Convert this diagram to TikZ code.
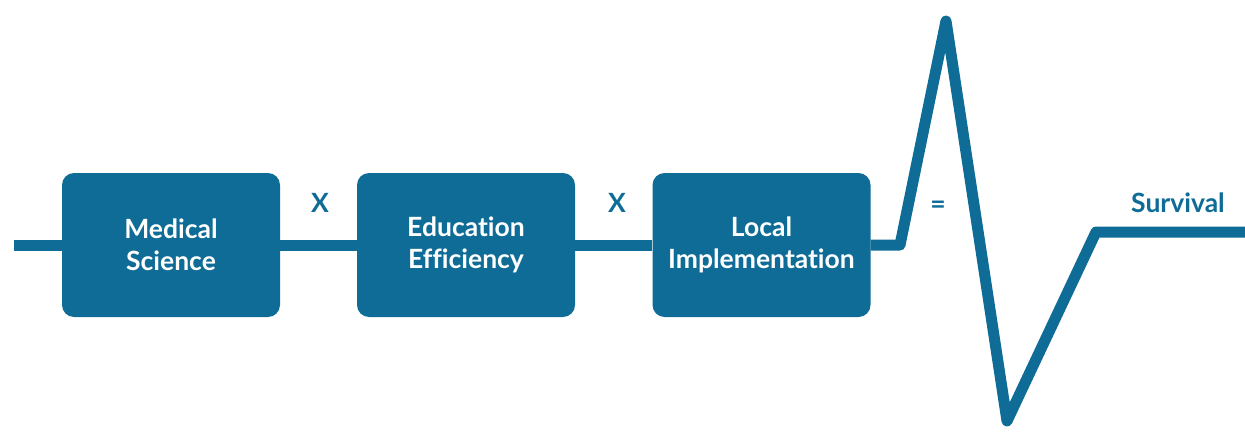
\documentclass[tikz,border=0pt]{standalone}
\usepackage{fontspec}
\setmainfont{Lato}[UprightFont=* Bold,Ligatures=NoCommon]
\definecolor{teal}{RGB}{14,108,150}
\begin{document}
\begin{tikzpicture}[x=1pt,y=-1pt,
  box/.style={draw=none,fill=teal,rounded corners=12pt,minimum width=218pt,minimum height=144pt,
    text=white,align=center,font=\fontsize{26.5}{32}\selectfont,inner sep=0pt},
  wire/.style={draw=teal,line width=11pt,line join=round},
  lbl/.style={text=teal,font=\fontsize{26.5}{30}\selectfont,inner sep=0pt}]
\useasboundingbox (0,0) rectangle (1245,436);
\coordinate (start) at (14,245);
\node[box] (b1) at (171,245) {Medical\\Science};
\node[box] (b2) at (466,245) {Education\\Efficiency};
\node[box] (b3) at (761.5,245) {Local\\Implementation};
\coordinate (p1) at (900,245);
\coordinate (peak) at (946,21);
\coordinate (trough) at (1007,421);
\coordinate (p2) at (1096,232);
\coordinate (end) at (1245,232);
\draw[wire] (start) -- (b1.west);
\draw[wire] (b1.east) -- (b2.west);
\draw[wire] (b2.east) -- (b3.west);
\draw[wire] (b3.east) -- (p1) -- (peak) -- (trough) -- (p2) -- (end);
\node[lbl] (x1) at (320,203) {X};
\node[lbl] (x2) at (617,203) {X};
\node[lbl] (eq) at (938,207) {=};
\node[lbl] (surv) at (1178,203) {Survival};
\end{tikzpicture}
\end{document}
